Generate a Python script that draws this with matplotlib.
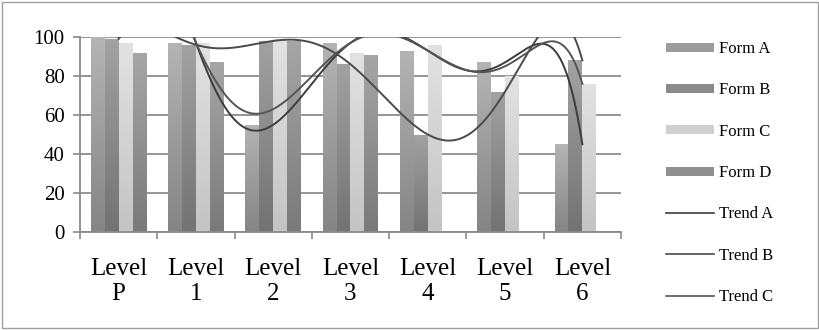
import numpy as np
import matplotlib.pyplot as plt
from matplotlib.patches import Rectangle, Patch
from matplotlib.lines import Line2D
from matplotlib.colors import LinearSegmentedColormap

plt.rcParams['font.family'] = ['Liberation Serif', 'DejaVu Serif']

# Scores per level
levels = ["Level\nP", "Level\n1", "Level\n2", "Level\n3", "Level\n4", "Level\n5", "Level\n6"]
form_a = [100, 97, 55, 97, 93, 87, 45]
form_b = [99, 96, 98, 86, 50, 72, 88]
form_c = [97, 97, 99, 92, 96, 80, 76]
form_d = [92, 87, 98, 91, np.nan, np.nan, np.nan]

# Trend values at each level (smoothed with a 6th order polynomial)
trend_a = [100, 97, 55, 97, 93, 87, 45]
trend_b = [99, 96, 98, 86, 50, 72, 88]
trend_c = [100, 97, 63, 97, 93, 85, 76]

forms = [
    ("Form A", form_a, "#b4b4b4", "#858585", "#9c9c9c"),
    ("Form B", form_b, "#a2a2a2", "#737373", "#8a8a8a"),
    ("Form C", form_c, "#e2e2e2", "#c4c4c4", "#d0d0d0"),
    ("Form D", form_d, "#a6a6a6", "#7a7a7a", "#8f8f8f"),
]
trends = [
    ("Trend A", trend_a, "#3c3c3c"),
    ("Trend B", trend_b, "#4a4a4a"),
    ("Trend C", trend_c, "#555555"),
]

fig = plt.figure(figsize=(8.2, 3.3), dpi=100)
ax = fig.add_axes([80 / 820, 1 - 232 / 330, 541 / 820, 195 / 330])

x = np.arange(len(levels))
width = 0.18
offsets = [-1.5 * width, -0.5 * width, 0.5 * width, 1.5 * width]

grad = np.linspace(1, 0, 64).reshape(-1, 1)
for (name, vals, top, bottom, _), off in zip(forms, offsets):
    cmap = LinearSegmentedColormap.from_list(name, [bottom, top])
    bars = ax.bar(x + off, vals, width, color="none", edgecolor="none", zorder=2)
    for b in bars:
        h = b.get_height()
        if np.isnan(h) or h <= 0:
            continue
        x0 = b.get_x()
        im = ax.imshow(grad, cmap=cmap, extent=(x0, x0 + width, 0, h),
                       aspect="auto", zorder=2, vmin=0, vmax=1)
        im.set_clip_path(b)

xs = np.linspace(0, 6, 400)
for name, vals, col in trends:
    poly = np.polynomial.Polynomial.fit(x, vals, 6)
    ax.plot(xs, poly(xs), color=col, lw=1.4, zorder=3)

ax.set_xlim(-0.5, 6.5)
ax.set_ylim(0, 100)
ax.set_yticks(range(0, 101, 20))
ax.set_xticks(x)
ax.set_xticklabels(levels, fontsize=18, linespacing=1.15)
ax.set_xticks(np.arange(-0.5, 7, 1), minor=True)
ax.tick_params(axis="x", which="major", length=0, pad=19)
ax.tick_params(axis="x", which="minor", length=5, color="#8a8a8a", width=1.2)
ax.tick_params(axis="y", labelsize=15, length=5, color="#8a8a8a", width=1.2, pad=6)

ax.grid(axis="y", color="#8c8c8c", lw=1.3, zorder=1)
ax.set_axisbelow(True)
for s in ["top", "right"]:
    ax.spines[s].set_visible(False)
for s in ["left", "bottom"]:
    ax.spines[s].set_color("#8a8a8a")
    ax.spines[s].set_linewidth(1.3)

handles = [Patch(facecolor=f[4], edgecolor="none") for f in forms]
handles += [Line2D([0], [0], color=t[2], lw=1.2) for t in trends]
labels = [f[0] for f in forms] + [t[0] for t in trends]
fig.legend(handles, labels, loc="upper left", bbox_to_anchor=(666 / 820, 1 - 41 / 330),
           frameon=False, fontsize=12, handlelength=2.9, handleheight=0.45,
           handletextpad=0.3, labelspacing=1.52, borderpad=0, borderaxespad=0)

fig.patches.append(Rectangle((0.003, 0.005), 0.994, 0.99, transform=fig.transFigure,
                             fill=False, edgecolor="#a0a0a0", lw=1))

fig.savefig("out.png", dpi=100, facecolor="white")
